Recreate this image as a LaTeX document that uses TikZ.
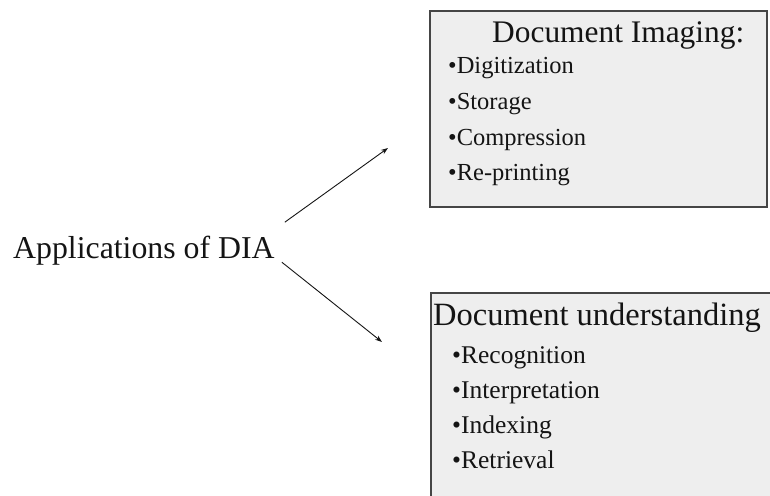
\documentclass[tikz,border=0pt]{standalone}
\usepackage{fontspec}
\setmainfont{Liberation Serif}
\usetikzlibrary{arrows.meta}
\definecolor{panelfill}{HTML}{EEEEEE}
\definecolor{panelline}{HTML}{454545}
\definecolor{inkcol}{HTML}{141414}
\tikzset{
  panel/.style={draw=panelline, line width=2.2pt, fill=panelfill, anchor=north west, inner sep=0pt},
  head/.style={anchor=base west, inner sep=0pt, text=inkcol, font=\fontsize{31.4}{36}\selectfont},
  item/.style={anchor=base west, inner sep=0pt, text=inkcol, font=\fontsize{24.5}{28}\selectfont},
  link/.style={draw=inkcol, line width=0.9pt, -{Stealth[length=7pt,width=5pt]}},
}
\begin{document}
\begin{tikzpicture}[x=1pt,y=-1pt]
\useasboundingbox (0,0) rectangle (770,495);
\clip (0,0) rectangle (770,495);
% boxes
\node[panel, minimum width=337pt, minimum height=196pt] (imgbox) at (429,10) {};
\node[panel, minimum width=370pt, minimum height=230pt] (undbox) at (430,292) {};
% left label
\node[head, font=\fontsize{31.8}{37}\selectfont] (app) at (13,258) {Applications of DIA};
\coordinate (imgtip) at (388,148);
\coordinate (undtip) at (382,342);
\draw[link] ([xshift=10pt,yshift=28pt]app.east) -- (imgtip);
\draw[link] ([xshift=7pt,yshift=-12pt]app.east) -- (undtip);
% document imaging
\node[head] (imghead) at (492,43) {Document Imaging:};
\foreach \txt [count=\i] in {Digitization,Storage,Compression,Re-printing}
  \node[item] (imgitem\i) at (448,{74+35.5*(\i-1)}) {•\txt};
% document understanding
\node[head, font=\fontsize{32.5}{38}\selectfont] (undhead) at (433,325) {Document understanding};
\foreach \txt [count=\i] in {Recognition,Interpretation,Indexing,Retrieval}
  \node[item, font=\fontsize{25.5}{29}\selectfont] (unditem\i) at (452,{363+35*(\i-1)}) {•\txt};
\end{tikzpicture}
\end{document}
